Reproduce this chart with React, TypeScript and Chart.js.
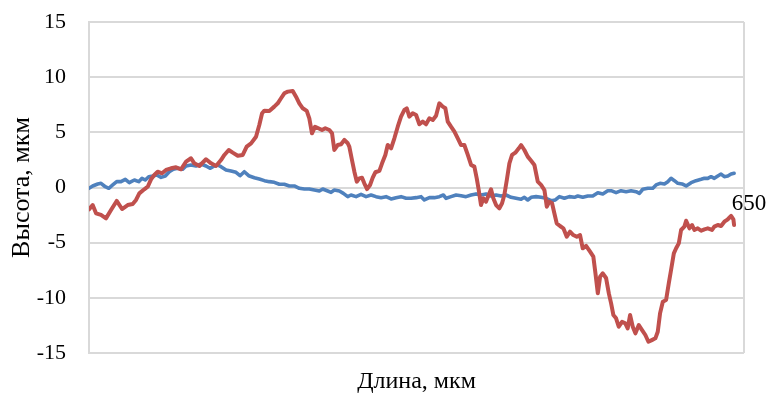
import React, { useEffect, useRef } from "react";
import { Chart, registerables } from "chart.js";

Chart.register(...registerables);

// Profile along the length (µm) and measured height (µm)
const redX = [
  0, 3.7, 7.1, 12.1, 17.1, 22.2, 27.9, 33.3, 39.0, 44.0, 47.4, 50.7, 55.7, 59.2, 62.5, 65.8, 69.2, 73.6, 77.6,
  82.6, 87.7, 92.7, 97.8, 102.8, 106.1, 111.2, 117.9, 123.0, 128.0, 133.0, 136.4, 140.8, 144.8, 149.9, 154.9,
  158.9, 163.3, 168.3, 171.6, 174.4, 176.7, 181.7, 186.7, 190.2, 193.5, 196.8, 200.3, 205.3, 208.6, 211.9,
  215.4, 219.4, 222.0, 224.7, 227.8, 231.1, 234.8, 238.1, 242.2, 244.9, 247.2, 250.6, 254.0, 257.3, 260.7,
  262.3, 265.0, 267.4, 269.8, 272.4, 275.1, 277.4, 280.2, 283.2, 285.9, 288.5, 292.6, 295.3, 298.6, 301.0,
  304.4, 307.7, 311.1, 314.4, 317.8, 320.2, 322.8, 326.2, 329.6, 332.9, 336.3, 339.6, 343.0, 346.4, 349.7,
  353.0, 356.5, 359.1, 361.5, 364.8, 368.2, 371.6, 374.9, 378.2, 381.7, 385.0, 388.3, 390.7, 392.7, 395.0,
  397.4, 400.1, 402.7, 405.1, 407.4, 410.2, 413.5, 416.2, 418.5, 421.0, 423.6, 426.3, 429.6, 433.1, 435.4,
  438.7, 442.1, 445.5, 448.8, 452.2, 455.5, 458.9, 461.3, 463.9, 466.6, 468.9, 471.3, 474.6, 478.0, 481.4,
  484.7, 488.0, 491.5, 494.8, 497.5, 500.9, 504.9, 508.2, 510.3, 512.7, 515.0, 517.7, 521.0, 523.8, 526.1,
  528.4, 531.1, 533.8, 537.1, 540.4, 542.8, 545.2, 547.9, 550.6, 554.0, 557.3, 560.6, 563.7, 567.1, 570.7,
  573.1, 575.4, 578.2, 581.5, 584.2, 586.5, 589.3, 591.6, 594.3, 596.6, 599.9, 601.7, 605.0, 607.7, 610.0,
  613.4, 616.8, 620.1, 623.5, 627.8, 630.1, 633.6, 636.9, 640.2, 643.7, 647.0, 649.3, 650,
];
const redY = [
  -1.98, -1.59, -2.34, -2.49, -2.8, -2.04, -1.22, -1.95, -1.59, -1.5, -1.13, -0.53, -0.16, 0.07, 0.74, 1.13,
  1.43, 1.29, 1.59, 1.74, 1.83, 1.65, 2.34, 2.65, 2.19, 1.95, 2.56, 2.19, 1.95, 2.49, 2.95, 3.4, 3.16, 2.88,
  2.95, 3.7, 4.0, 4.6, 5.67, 6.73, 6.96, 6.94, 7.33, 7.63, 8.09, 8.54, 8.69, 8.75, 8.23, 7.63, 7.18, 6.94,
  6.27, 4.91, 5.51, 5.37, 5.21, 5.37, 5.21, 4.91, 3.4, 3.85, 3.92, 4.31, 4.01, 3.7, 2.49, 1.43, 0.53, 0.83,
  0.89, 0.38, -0.14, 0.23, 0.89, 1.38, 1.5, 2.19, 2.95, 3.85, 3.55, 4.46, 5.51, 6.42, 7.03, 7.18, 6.42, 6.73,
  6.57, 5.73, 5.97, 5.73, 6.27, 6.12, 6.51, 7.63, 7.33, 7.18, 5.97, 5.51, 5.06, 4.46, 3.85, 3.85, 2.95, 2.04,
  1.89, 0.83, -0.23, -1.59, -0.98, -1.28, -0.68, -0.16, -0.98, -1.59, -1.89, -1.43, -0.68, 0.68, 2.19, 2.95,
  3.16, 3.55, 3.85, 3.4, 2.8, 2.43, 2.04, 0.53, 0.23, -0.23, -1.74, -1.28, -1.43, -2.34, -3.25, -3.49, -3.7,
  -4.46, -4.0, -4.31, -4.46, -4.31, -5.51, -5.3, -5.82, -6.27, -7.78, -9.59, -8.09, -7.78, -8.2, -9.6, -10.5,
  -11.56, -11.86, -12.62, -12.17, -12.31, -12.77, -11.56, -12.62, -13.22, -12.47, -12.92, -13.37, -13.98,
  -13.83, -13.67, -13.07, -11.41, -10.35, -10.2, -8.69, -7.48, -5.97, -5.51, -5.06, -3.85, -3.55, -3.01, -3.7,
  -3.4, -3.85, -3.7, -3.92, -3.79, -3.7, -3.85, -3.55, -3.4, -3.49, -3.1, -2.88, -2.58, -2.88, -3.4,
];

const blueX = [
  0, 3.7, 8.8, 12.1, 16.4, 19.9, 23.9, 27.9, 32.2, 36.6, 40.6, 45.7, 50.1, 53.4, 56.7, 60.2, 64.2, 68.2, 72.6,
  76.9, 80.9, 85.0, 89.4, 94.4, 97.8, 102.8, 107.8, 112.9, 117.9, 121.9, 126.3, 129.7, 133.0, 138.1, 143.1,
  148.1, 152.2, 156.5, 160.9, 166.6, 171.6, 176.7, 181.7, 186.7, 191.8, 196.8, 201.9, 206.9, 211.9, 217.0,
  222.0, 227.1, 232.1, 235.5, 240.6, 243.9, 247.2, 252.3, 256.3, 260.7, 264.0, 269.1, 274.1, 279.2, 284.2,
  289.2, 294.3, 299.3, 304.4, 309.4, 314.4, 319.5, 324.5, 329.6, 334.6, 337.9, 343.0, 348.0, 353.0, 357.1,
  359.8, 364.8, 369.9, 374.9, 379.9, 385.0, 390.0, 395.0, 400.1, 405.1, 410.2, 415.2, 420.2, 425.3, 430.3,
  435.4, 438.7, 442.1, 445.5, 450.5, 455.5, 460.6, 465.6, 469.9, 474.0, 479.0, 484.0, 489.1, 492.5, 497.5,
  502.6, 507.6, 512.7, 517.7, 522.7, 526.1, 531.1, 536.1, 541.2, 546.2, 551.3, 554.6, 558.0, 563.1, 568.1,
  571.4, 575.4, 579.8, 583.2, 586.5, 589.9, 593.3, 597.6, 601.7, 606.7, 611.7, 616.8, 620.1, 623.5, 626.8,
  630.1, 633.6, 636.9, 640.2, 643.7, 647.0, 650,
];
const blueY = [
  -0.07, 0.14, 0.32, 0.38, 0.07, -0.07, 0.23, 0.53, 0.53, 0.74, 0.44, 0.68, 0.53, 0.83, 0.68, 0.98, 1.04, 1.13,
  0.92, 1.04, 1.43, 1.65, 1.74, 1.65, 1.95, 2.04, 1.95, 2.13, 1.95, 1.74, 1.95, 2.04, 1.89, 1.59, 1.5, 1.38,
  1.07, 1.43, 1.07, 0.89, 0.77, 0.62, 0.53, 0.47, 0.29, 0.29, 0.14, 0.14, -0.07, -0.14, -0.14, -0.23, -0.32,
  -0.14, -0.32, -0.44, -0.23, -0.32, -0.53, -0.83, -0.68, -0.83, -0.62, -0.83, -0.68, -0.83, -0.92, -0.83,
  -1.04, -0.92, -0.83, -0.98, -0.98, -0.92, -0.83, -1.13, -0.92, -0.92, -0.83, -0.68, -0.98, -0.83, -0.68,
  -0.74, -0.83, -0.68, -0.58, -0.68, -0.59, -0.77, -0.68, -0.77, -0.68, -0.89, -0.98, -1.07, -0.89, -1.13,
  -0.89, -0.83, -0.89, -0.98, -1.2, -1.13, -0.83, -0.98, -0.83, -0.89, -0.77, -0.89, -0.77, -0.77, -0.47,
  -0.59, -0.29, -0.29, -0.47, -0.29, -0.38, -0.29, -0.38, -0.53, -0.16, -0.07, -0.07, 0.23, 0.38, 0.32, 0.53,
  0.83, 0.62, 0.38, 0.32, 0.14, 0.44, 0.62, 0.74, 0.83, 0.83, 0.98, 0.83, 1.04, 1.22, 0.98, 1.04, 1.22, 1.29,
];

const yTicks = [-15, -10, -5, 0, 5, 10, 15];
const xEndLabel = 650;
const xAxisMax = 660;

const xTitle = "Длина, мкм";
const yTitle = "Высота, мкм";

const FONT = "'Times New Roman', 'Liberation Serif', serif";
const GRID = "#d9d9d9";

const toPoints = (xs: number[], ys: number[]) => xs.map((x, i) => ({ x, y: ys[i] }));

// Right-hand frame line and the end-of-axis label next to the zero line
const framePlugin = {
  id: "frame",
  beforeDatasetsDraw(chart: any) {
    const { ctx, chartArea } = chart;
    ctx.save();
    ctx.strokeStyle = GRID;
    ctx.lineWidth = 2;
    ctx.beginPath();
    ctx.moveTo(chartArea.right, chartArea.top);
    ctx.lineTo(chartArea.right, chartArea.bottom);
    ctx.stroke();
    ctx.restore();
  },
  afterDraw(chart: any) {
    const { ctx, chartArea, scales } = chart;
    const y0 = scales.y.getPixelForValue(0);
    ctx.save();
    ctx.fillStyle = "#000";
    ctx.font = `23px ${FONT}`;
    ctx.textAlign = "center";
    ctx.textBaseline = "middle";
    ctx.fillText(String(xEndLabel), chartArea.right + 5, y0 + 16);
    ctx.restore();
  },
};

export default function App() {
  const canvasRef = useRef<HTMLCanvasElement | null>(null);

  useEffect(() => {
    document.body.style.margin = "0";
    const canvas = canvasRef.current;
    if (!canvas) return;
    const chart = new Chart(canvas, {
      type: "line",
      data: {
        datasets: [
          {
            label: "2",
            data: toPoints(redX, redY),
            borderColor: "#c0504d",
            borderWidth: 4,
            pointRadius: 0,
            tension: 0,
            borderJoinStyle: "round",
            borderCapStyle: "round",
            order: 0,
          },
          {
            label: "1",
            data: toPoints(blueX, blueY),
            borderColor: "#4f81bd",
            borderWidth: 3.6,
            pointRadius: 0,
            tension: 0,
            borderJoinStyle: "round",
            borderCapStyle: "round",
            order: 1,
          },
        ],
      },
      options: {
        responsive: false,
        animation: false,
        layout: { padding: { top: 22, right: 25, left: 0, bottom: 0 } },
        plugins: { legend: { display: false }, tooltip: { enabled: false } },
        scales: {
          x: {
            type: "linear",
            min: 0,
            max: xAxisMax,
            grid: { display: false },
            border: { display: false },
            ticks: { display: false },
            title: {
              display: true,
              text: xTitle,
              color: "#000",
              font: { family: FONT, size: 24 },
              padding: { top: 0, bottom: -2 },
            },
            afterFit(scale: any) {
              scale.height = 41;
              scale.paddingLeft = 0;
              scale.paddingRight = 0;
            },
          },
          y: {
            min: -15,
            max: 15,
            afterBuildTicks(scale: any) {
              scale.ticks = yTicks.map((v) => ({ value: v }));
            },
            grid: { color: GRID, lineWidth: 2, drawTicks: false },
            border: { display: true, color: GRID, width: 2 },
            ticks: {
              color: "#000",
              padding: 23,
              font: { family: FONT, size: 22 },
            },
            title: {
              display: true,
              text: yTitle,
              color: "#000",
              font: { family: FONT, size: 26 },
              padding: { top: 7, bottom: 0 },
            },
            afterFit(scale: any) {
              scale.width = 89;
              scale.paddingTop = 0;
              scale.paddingBottom = 0;
            },
          },
        },
      },
      plugins: [framePlugin],
    });
    return () => chart.destroy();
  }, []);

  return (
    <div style={{ width: 769, height: 394, background: "#fff" }}>
      <canvas ref={canvasRef} width={769} height={394} style={{ display: "block" }} />
    </div>
  );
}
